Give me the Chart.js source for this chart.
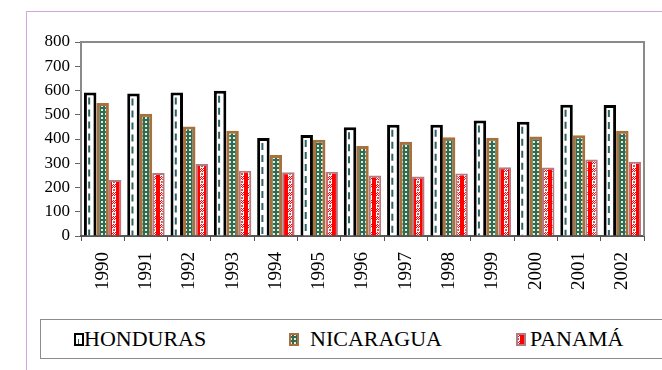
<!DOCTYPE html>
<html>
<head>
<meta charset="utf-8">
<script src="https://cdn.jsdelivr.net/npm/chart.js@4"></script>
<style>
  html, body { margin: 0; padding: 0; background: #fff; overflow: hidden; }
  #wrap { position: relative; width: 662px; height: 370px; }
  #frame { position: absolute; left: 26px; top: 11px; width: 700px; height: 400px;
           border-left: 1px solid #d9a3e3; border-top: 1px solid #d9a3e3; }
  #legend { position: absolute; left: 40px; top: 319px; width: 700px; height: 38px;
            border: 1px solid #8c8c8c; background: #fff; }
  .item { position: absolute; top: 7px; font-family: 'Liberation Serif', 'Times New Roman', 'DejaVu Serif', serif;
          font-size: 22px; line-height: 24px; color: #000; }
  .item canvas { position: absolute; top: 6px; }
  canvas#myChart { position: absolute; left: 0; top: 0; }
</style>
</head>
<body>
<div id="wrap">
  <div id="frame"></div>
  <canvas id="myChart" width="662" height="370"></canvas>
  <div id="legend"></div>
</div>
<script>
const years = ['1990', '1991', '1992', '1993', '1994', '1995', '1996', '1997', '1998', '1999', '2000', '2001', '2002'];
const honduras = [592, 588, 592, 599, 404, 416, 448, 459, 459, 476, 471, 541, 540];
const nicaragua = [548, 504, 452, 434, 334, 397, 371, 389, 407, 405, 410, 415, 434];
const panama = [231, 260, 297, 269, 263, 265, 249, 245, 258, 283, 282, 315, 306];
const seriesNames = ['HONDURAS', 'NICARAGUA', 'PANAMÁ'];
const yMax = 800;
const yStep = 100;

const serif = "'Liberation Serif', 'Times New Roman', 'DejaVu Serif', serif";

const canvas = document.getElementById('myChart');
const ctx = canvas.getContext('2d');

const makePattern = (w, h, draw) => {
  const c = document.createElement('canvas');
  c.width = w; c.height = h;
  draw(c.getContext('2d'));
  return ctx.createPattern(c, 'repeat');
}

// verde con puntitos crema
const dotsGreen = makePattern(4, 4, g => {
  g.fillStyle = '#2d6b58';
  g.fillRect(0, 0, 4, 4);
  g.fillStyle = '#e8ecc8';
  g.fillRect(1, 1, 2, 2);
});

// rojo con cuadritos blancos
const checkRed = makePattern(8, 8, g => {
  g.fillStyle = '#ff0000';
  g.fillRect(0, 0, 8, 8);
  g.fillStyle = '#ffffff';
  for (let y = 0; y < 4; y++) {
    for (let x = 0; x < 4; x++) {
      if ((x + y) % 2 === 0) g.fillRect(x, y, 1, 1);
    }
  }
  g.fillRect(0, 4, 4, 4);
  g.fillStyle = '#ff4040';
  g.fillRect(1, 5, 2, 2);
});

const dashPlugin = {
  id: 'dashes',
  afterDatasetsDraw(chart) {
    const c = chart.ctx;
    const meta = chart.getDatasetMeta(0);
    c.save();
    c.strokeStyle = '#2f6363';
    c.lineWidth = 2;
    c.setLineDash([7, 5]);
    meta.data.forEach(bar => {
      c.beginPath();
      c.moveTo(bar.x - 1, bar.y + 5);
      c.lineTo(bar.x - 1, bar.base);
      c.stroke();
    });
    c.restore();
  }
}

const framePlugin = {
  id: 'frame',
  afterDraw(chart) {
    const a = chart.chartArea;
    const c = chart.ctx;
    c.save();
    c.strokeStyle = '#8a8a8a';
    c.lineWidth = 2;
    c.beginPath();
    c.moveTo(a.left, a.top);
    c.lineTo(a.right, a.top);
    c.lineTo(a.right, a.bottom);
    c.stroke();
    c.restore();
  }
}

const myChart = new Chart(ctx, {
  type: 'bar',
  data: {
    labels: years,
    datasets: [{
      label: seriesNames[0],
      data: honduras,
      backgroundColor: '#ffffff',
      borderColor: '#000000',
      borderWidth: 3
    }, {
      label: seriesNames[1],
      data: nicaragua,
      backgroundColor: dotsGreen,
      borderColor: '#a8703c',
      borderWidth: 3
    }, {
      label: seriesNames[2],
      data: panama,
      backgroundColor: checkRed,
      borderColor: '#b07c84',
      borderWidth: 2
    }]
  },
  options: {
    responsive: false,
    animation: false,
    layout: { padding: { left: 30, right: 18, top: 42, bottom: 0 } },
    datasets: {
      bar: { categoryPercentage: 0.865, barPercentage: 1.0 }
    },
    plugins: {
      legend: { display: false },
      tooltip: { enabled: false }
    },
    scales: {
      y: {
        min: 0,
        max: yMax,
        afterFit: s => { s.width = 51; },
        border: { color: '#8a8a8a', width: 2 },
        grid: { drawOnChartArea: false, tickLength: 6, color: '#666' },
        ticks: {
          stepSize: yStep,
          autoSkip: false,
          padding: 5,
          color: '#000',
          font: { family: serif, size: 17 }
        }
      },
      x: {
        afterFit: s => { s.height = 134; },
        border: { color: '#555', width: 2 },
        grid: { drawOnChartArea: false, tickLength: 5, color: '#555', offset: true },
        ticks: {
          minRotation: 90,
          maxRotation: 90,
          autoSkip: false,
          padding: 11,
          color: '#000',
          font: { family: serif, size: 19 }
        }
      }
    }
  },
  plugins: [dashPlugin, framePlugin]
});

// leyenda en html con las mismas tramas
const legendPos = [[33, 43], [248, 269], [475, 489]];
const legendFills = ['#ffffff', dotsGreen, checkRed];
const legendBorders = ['#000000', '#a8703c', '#b07c84'];
const legend = document.getElementById('legend');
seriesNames.forEach((name, i) => {
  const sw = document.createElement('canvas');
  sw.width = 10; sw.height = 13;
  sw.style.left = legendPos[i][0] + 'px';
  const g = sw.getContext('2d');
  g.fillStyle = legendFills[i];
  g.fillRect(0, 0, 10, 13);
  g.strokeStyle = legendBorders[i];
  g.lineWidth = 2;
  g.strokeRect(1, 1, 8, 11);
  if (i === 0) {
    g.fillStyle = '#2f6363';
    g.fillRect(4, 6, 1, 5);
  }
  const box = document.createElement('div');
  box.className = 'item';
  box.style.left = '0px';
  box.appendChild(sw);
  const t = document.createElement('span');
  t.textContent = name;
  t.style.position = 'absolute';
  t.style.left = legendPos[i][1] + 'px';
  t.style.whiteSpace = 'nowrap';
  box.appendChild(t);
  legend.appendChild(box);
});
</script>
</body>
</html>
